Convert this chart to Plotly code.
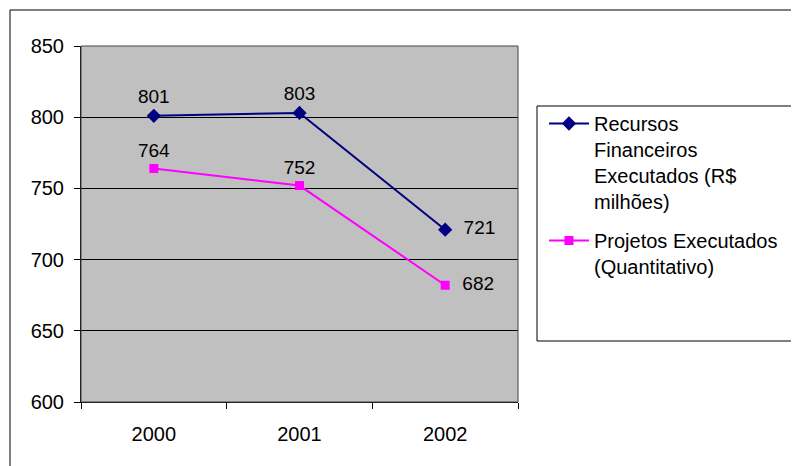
import plotly.graph_objects as go

years = ["2000", "2001", "2002"]
recursos = [801, 803, 721]
projetos = [764, 752, 682]
name_recursos = "Recursos<br>Financeiros<br>Executados (R$<br>milhões)"
name_projetos = "Projetos Executados<br>(Quantitativo)"
y_ticks = [600, 650, 700, 750, 800, 850]

OFF = 8  # page body margin
W, H = 799 - OFF, 466 - OFF
L, R, T, B = 81 - OFF, 518 - OFF, 46 - OFF, 402 - OFF
FONT = "Arial, Liberation Sans, sans-serif"

def px_x(p):
    return (p - OFF - L) / (R - L)

def px_y(p):
    return (B - (p - OFF)) / (B - T)

pos = ["top center", "top center", "middle right"]

def labels(vals):
    return [str(v) if i < 2 else "  " + str(v) for i, v in enumerate(vals)]

fig = go.Figure()
fig.add_trace(go.Scatter(
    x=years, y=recursos, name=name_recursos, mode="lines+markers+text",
    legendgroup="a",
    line=dict(color="#000080", width=2),
    marker=dict(symbol="diamond", size=11, color="#000080"),
    text=labels(recursos), textposition=pos,
    textfont=dict(size=19, color="black", family=FONT),
))
fig.add_trace(go.Scatter(
    x=years, y=projetos, name=name_projetos, mode="lines+markers+text",
    legendgroup="b",
    line=dict(color="#FF00FF", width=2),
    marker=dict(symbol="square", size=9, color="#FF00FF"),
    text=labels(projetos), textposition=pos,
    textfont=dict(size=19, color="black", family=FONT),
))

fig.update_layout(
    width=W, height=H,
    margin=dict(l=L, r=W - R, t=T, b=H - B, pad=0),
    paper_bgcolor="white",
    plot_bgcolor="#C0C0C0",
    font=dict(family=FONT, size=20, color="black"),
    showlegend=True,
    legend=dict(
        x=px_x(544), y=px_y(104), xanchor="left", yanchor="top",
        bgcolor="rgba(0,0,0,0)", borderwidth=0,
        font=dict(size=20, family=FONT),
        valign="top", itemwidth=40, tracegroupgap=10,
    ),
    xaxis=dict(
        type="category", range=[-0.5, 2.5],
        showgrid=False, showline=True, linecolor="black", linewidth=1,
        ticks="outside", ticklen=6, tickcolor="black", tickson="boundaries",
        tickfont=dict(size=20), zeroline=False, ticklabelstandoff=14,
    ),
    yaxis=dict(
        range=[600, 850], tickvals=y_ticks,
        showgrid=True, gridcolor="black", gridwidth=1,
        showline=True, linecolor="black", linewidth=1,
        ticks="outside", ticklen=6, tickcolor="black",
        tickfont=dict(size=20), zeroline=False, ticklabelstandoff=6,
    ),
    shapes=[
        dict(type="rect", xref="paper", yref="paper",
             x0=0, x1=1, y0=0, y1=1, line=dict(color="#444444", width=1), layer="above"),
        dict(type="rect", xref="paper", yref="paper",
             x0=px_x(537), x1=px_x(805), y0=px_y(341), y1=px_y(106),
             line=dict(color="black", width=1)),
        dict(type="rect", xref="paper", yref="paper",
             x0=px_x(10), x1=px_x(805), y0=px_y(470), y1=px_y(10),
             line=dict(color="black", width=1)),
    ],
)

fig.write_html("out.html")
